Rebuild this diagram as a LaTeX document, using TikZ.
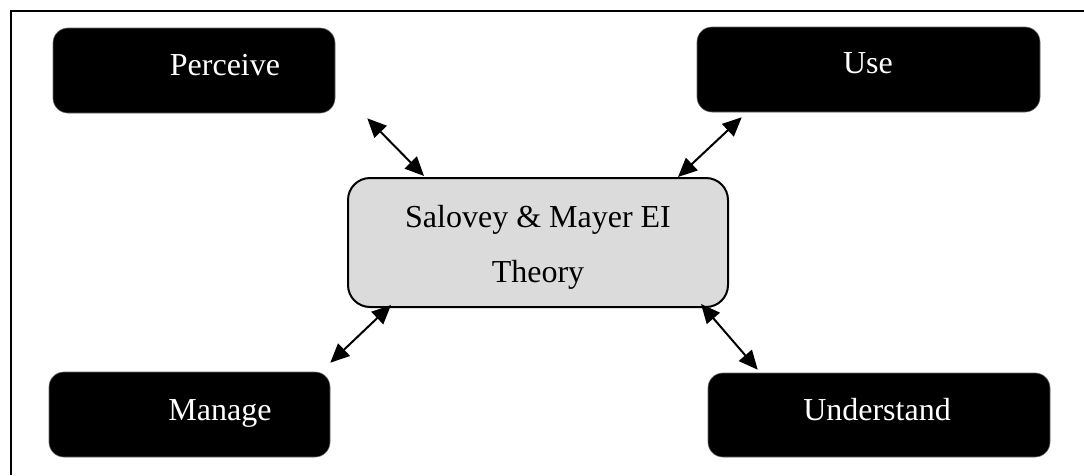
\documentclass[tikz,border=0pt]{standalone}
\usepackage{fontspec}
\setmainfont{Liberation Serif}
\usetikzlibrary{arrows.meta,calc}
\begin{document}
\begin{tikzpicture}[x=1pt,y=-1pt,
  blackbox/.style={rectangle,rounded corners=15pt,fill=black,draw=black!60,line width=0.6pt,inner sep=0pt},
  theorybox/.style={rectangle,rounded corners=22pt,fill=gray!28,draw=black,line width=2pt,inner sep=0pt,minimum width=380pt,minimum height=129pt},
  whitetext/.style={text=white,font=\fontsize{32}{38}\selectfont,inner sep=0pt,anchor=base},
  blacktext/.style={text=black,font=\fontsize{32}{38}\selectfont,inner sep=0pt,anchor=base},
  link/.style={{Triangle[length=19pt,width=17pt]}-{Triangle[length=19pt,width=17pt]},line width=2pt}]
\useasboundingbox (0,0) rectangle (1084,475);
\fill[white] (0,0) rectangle (1084,475);
\draw[line width=2.5pt] (1084,11) -- (11,11) -- (11,475);

\node[blackbox,minimum width=282pt,minimum height=85pt] (perceive) at (194,70.5) {};
\node[blackbox,minimum width=343pt,minimum height=85pt] (use) at (868.5,69.5) {};
\node[blackbox,minimum width=281pt,minimum height=85pt] (manage) at (189.5,414.5) {};
\node[blackbox,minimum width=342pt,minimum height=84pt] (understand) at (879,415) {};
\node[theorybox] (theory) at (538,242.5) {};

\node[whitetext] (tperceive) at (225,75) {Perceive};
\node[whitetext] (tuse) at (868,73) {Use};
\node[whitetext] (tmanage) at (220,420) {Manage};
\node[whitetext] (tunderstand) at (877,420) {Understand};
\node[blacktext] (ttheory1) at (538,227) {Salovey \& Mayer EI};
\node[blacktext] (ttheory2) at (538,282) {Theory};

\coordinate (p1) at ($(perceive.south east)+(32,5)$);
\coordinate (c1) at ($(theory.north west)+(77,-1)$);
\coordinate (u1) at ($(use.south west)+(45,5)$);
\coordinate (c2) at ($(theory.north east)+(-51,0)$);
\coordinate (c3) at ($(theory.south west)+(44,-3)$);
\coordinate (m1) at ($(manage.north east)+(0,-9)$);
\coordinate (c4) at ($(theory.south east)+(-28,-4)$);
\coordinate (d1) at ($(understand.north west)+(50,-3)$);

\draw[link] (p1) -- (c1);
\draw[link] (u1) -- (c2);
\draw[link] (c3) -- (m1);
\draw[link] (c4) -- (d1);
\end{tikzpicture}
\end{document}
